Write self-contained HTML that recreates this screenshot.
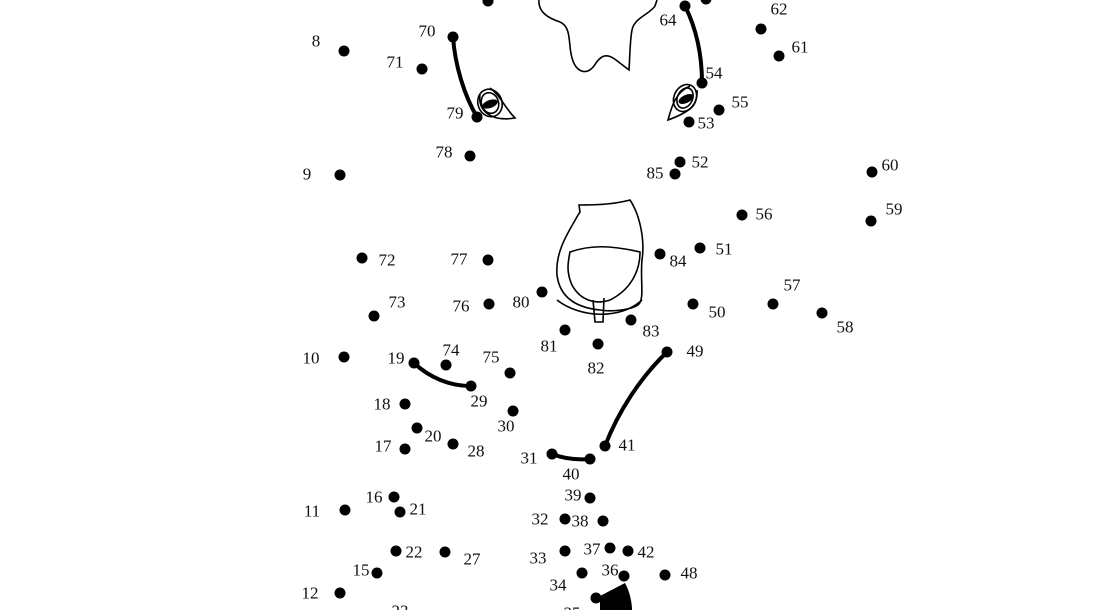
<!DOCTYPE html>
<html><head><meta charset="utf-8"><style>
html,body{margin:0;padding:0;background:#fff;}
svg{display:block;}
text{font-family:"Liberation Serif",serif;font-size:17px;fill:#111;}
</style></head><body>
<svg width="1100" height="610" viewBox="0 0 1100 610" xmlns="http://www.w3.org/2000/svg">
<g fill="none" stroke="#000" stroke-width="1.6">
<path d="M539,0 C538,12 548,18 560,22 C572,27 568,45 572,58 C576,72 586,76 594,66 C600,56 606,52 616,60 L629,70 C630,55 630,40 632,30 C634,18 650,14 655,6 L657,0"/>
<ellipse cx="490" cy="103" rx="12" ry="14" transform="rotate(-20 490 103)"/>
<ellipse cx="490" cy="103" rx="8.5" ry="10.5" transform="rotate(-20 490 103)"/>
<path d="M480,95 C478,110 490,122 515,118 C505,108 500,95 490,88"/>
<ellipse cx="685" cy="98" rx="11" ry="14" transform="rotate(25 685 98)"/>
<ellipse cx="685" cy="98" rx="7.5" ry="10.5" transform="rotate(25 685 98)"/>
<path d="M697,90 C698,105 690,112 668,120 C672,105 676,92 690,86"/>
<path d="M580,212 L579,205 C600,205 615,204 630,200 C640,215 645,240 642,260 C640,280 645,300 638,305 C630,310 612,312 600,310 C580,308 560,300 557,275 C555,250 570,230 578,215 Z"/>
<path d="M570,252 C590,245 610,245 640,252 C640,272 630,290 610,300 C595,305 580,300 572,285 C566,272 568,262 570,252 Z"/>
<path d="M593,300 L595,322 L603,322 L604,298"/>
<path d="M557,300 C580,318 620,320 642,300"/>
</g>
<g fill="#000">
<ellipse cx="490" cy="104" rx="8" ry="4" transform="rotate(-20 490 104)"/>
<ellipse cx="686" cy="99" rx="8" ry="4" transform="rotate(-25 686 99)"/>
<path d="M600,596 L625,583 C630,592 632,603 632,610 L600,610 Z"/>
</g>
<g fill="none" stroke="#000" stroke-width="4" stroke-linecap="round">
<path d="M453,37 C455,65 464,95 477,117"/>
<path d="M685,6 C697,30 702,55 702,83"/>
<path d="M414,363 C430,378 450,386 471,386"/>
<path d="M667,352 C640,378 618,412 605,446"/>
<path d="M552,454 C565,459 578,460 590,459"/>
</g>
<g fill="#000">
<circle cx="488" cy="1" r="5.5"/><circle cx="706" cy="-1" r="5.5"/>
<circle cx="344" cy="51" r="5.5"/><circle cx="453" cy="37" r="5.5"/><circle cx="422" cy="69" r="5.5"/>
<circle cx="477" cy="117" r="5.5"/><circle cx="470" cy="156" r="5.5"/><circle cx="340" cy="175" r="5.5"/>
<circle cx="685" cy="6" r="5.5"/><circle cx="761" cy="29" r="5.5"/><circle cx="779" cy="56" r="5.5"/>
<circle cx="702" cy="83" r="5.5"/><circle cx="719" cy="110" r="5.5"/><circle cx="689" cy="122" r="5.5"/>
<circle cx="680" cy="162" r="5.5"/><circle cx="675" cy="174" r="5.5"/><circle cx="872" cy="172" r="5.5"/>
<circle cx="871" cy="221" r="5.5"/><circle cx="742" cy="215" r="5.5"/><circle cx="700" cy="248" r="5.5"/>
<circle cx="660" cy="254" r="5.5"/><circle cx="362" cy="258" r="5.5"/><circle cx="488" cy="260" r="5.5"/>
<circle cx="489" cy="304" r="5.5"/><circle cx="542" cy="292" r="5.5"/><circle cx="773" cy="304" r="5.5"/>
<circle cx="822" cy="313" r="5.5"/><circle cx="693" cy="304" r="5.5"/><circle cx="374" cy="316" r="5.5"/>
<circle cx="565" cy="330" r="5.5"/><circle cx="631" cy="320" r="5.5"/><circle cx="598" cy="344" r="5.5"/>
<circle cx="667" cy="352" r="5.5"/><circle cx="344" cy="357" r="5.5"/><circle cx="414" cy="363" r="5.5"/>
<circle cx="446" cy="365" r="5.5"/><circle cx="510" cy="373" r="5.5"/><circle cx="471" cy="386" r="5.5"/>
<circle cx="405" cy="404" r="5.5"/><circle cx="513" cy="411" r="5.5"/><circle cx="417" cy="428" r="5.5"/>
<circle cx="405" cy="449" r="5.5"/><circle cx="453" cy="444" r="5.5"/><circle cx="605" cy="446" r="5.5"/>
<circle cx="552" cy="454" r="5.5"/><circle cx="590" cy="459" r="5.5"/><circle cx="590" cy="498" r="5.5"/>
<circle cx="394" cy="497" r="5.5"/><circle cx="400" cy="512" r="5.5"/><circle cx="345" cy="510" r="5.5"/>
<circle cx="565" cy="519" r="5.5"/><circle cx="603" cy="521" r="5.5"/><circle cx="396" cy="551" r="5.5"/>
<circle cx="445" cy="552" r="5.5"/><circle cx="565" cy="551" r="5.5"/><circle cx="610" cy="548" r="5.5"/>
<circle cx="628" cy="551" r="5.5"/><circle cx="377" cy="573" r="5.5"/><circle cx="624" cy="576" r="5.5"/>
<circle cx="665" cy="575" r="5.5"/><circle cx="582" cy="573" r="5.5"/><circle cx="340" cy="593" r="5.5"/>
<circle cx="596" cy="598" r="5.5"/>
</g>
<g text-anchor="middle" dominant-baseline="central">
<text x="316" y="41">8</text><text x="427" y="31">70</text><text x="395" y="62">71</text>
<text x="455" y="113">79</text><text x="444" y="152">78</text><text x="307" y="174">9</text>
<text x="668" y="20">64</text><text x="779" y="9">62</text><text x="800" y="47">61</text>
<text x="714" y="73">54</text><text x="740" y="102">55</text><text x="706" y="123">53</text>
<text x="700" y="162">52</text><text x="655" y="173">85</text><text x="890" y="165">60</text>
<text x="894" y="209">59</text><text x="764" y="214">56</text><text x="724" y="249">51</text>
<text x="678" y="261">84</text><text x="387" y="260">72</text><text x="459" y="259">77</text>
<text x="461" y="306">76</text><text x="521" y="302">80</text><text x="792" y="285">57</text>
<text x="845" y="327">58</text><text x="717" y="312">50</text><text x="397" y="302">73</text>
<text x="549" y="346">81</text><text x="651" y="331">83</text><text x="596" y="368">82</text>
<text x="695" y="351">49</text><text x="311" y="358">10</text><text x="396" y="358">19</text>
<text x="451" y="350">74</text><text x="491" y="357">75</text><text x="479" y="401">29</text>
<text x="382" y="404">18</text><text x="506" y="426">30</text><text x="433" y="436">20</text>
<text x="383" y="446">17</text><text x="476" y="451">28</text><text x="627" y="445">41</text>
<text x="529" y="458">31</text><text x="571" y="474">40</text><text x="573" y="495">39</text>
<text x="374" y="497">16</text><text x="418" y="509">21</text><text x="312" y="511">11</text>
<text x="540" y="519">32</text><text x="580" y="521">38</text><text x="414" y="552">22</text>
<text x="472" y="559">27</text><text x="538" y="558">33</text><text x="592" y="549">37</text>
<text x="646" y="552">42</text><text x="361" y="570">15</text><text x="610" y="570">36</text>
<text x="689" y="573">48</text><text x="558" y="585">34</text><text x="310" y="593">12</text>
<text x="400" y="611">23</text><text x="572" y="613">35</text>
</g>
</svg>
</body></html>
